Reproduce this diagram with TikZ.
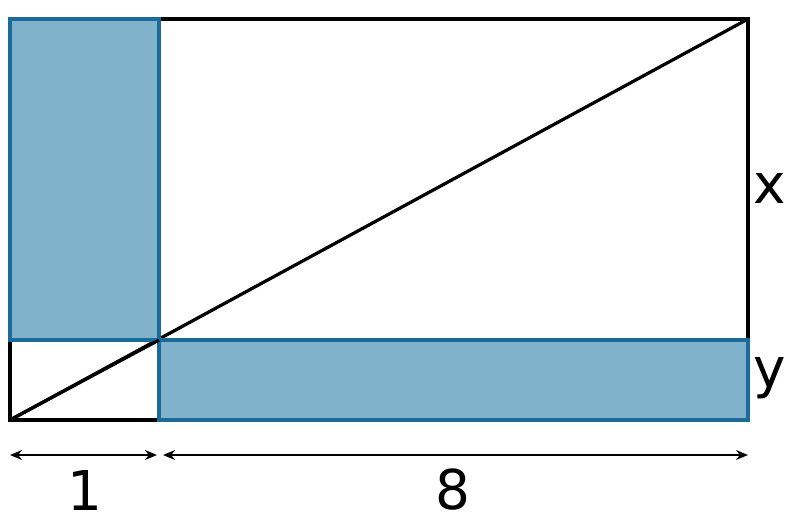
\documentclass[tikz,border=0pt]{standalone}
\usepackage{fontspec}
\setmainfont{DejaVu Sans}
\usetikzlibrary{arrows.meta}
\definecolor{boxblue}{HTML}{80B2CB}
\definecolor{edgeblue}{HTML}{1A6A9A}

\begin{document}
\begin{tikzpicture}[x = 0.025cm, y = -0.025cm,
	blackline/.style = {solid, line width = 2.3pt, black},
	blueside/.style = {fill = boxblue, draw = edgeblue, line width = 2.3pt},
	dimline/.style = {line width = 1.4pt, black, {Stealth[length = 8.5pt, width = 7pt]}-{Stealth[length = 8.5pt, width = 7pt]}},
	lbl/.style = {black, font = \fontsize{39}{39}\selectfont}]

	\useasboundingbox (0, 0) rectangle (800, 529);

	\coordinate (A) at (10, 420);
	\coordinate (B) at (159, 420);
	\coordinate (C) at (748, 420);
	\coordinate (D) at (748, 340);
	\coordinate (E) at (159, 340);
	\coordinate (F) at (10, 340);
	\coordinate (G) at (748, 19);
	\coordinate (H) at (159, 19);
	\coordinate (K) at (10, 19);

	\draw[blackline] (A) -- (C) -- (G) -- (K) -- cycle;
	\draw[blackline] (A) -- (G);
	\draw[blackline] (B) -- (E);
	\draw[blackline] (F) -- (E);

	\draw[blueside] (F) rectangle (H);
	\draw[blueside] (E) rectangle (C);
	\draw[blackline] (A) -- (E);

	\coordinate (p1) at (10, 455);
	\coordinate (p2) at (157, 455);
	\coordinate (p3) at (163, 455);
	\coordinate (p4) at (748, 455);
	\draw[dimline] (p1) -- (p2);
	\draw[dimline] (p3) -- (p4);

	\node[lbl] (one) at (85, 490) {1};
	\node[lbl] (eight) at (453, 490) {8};
	\node[lbl] (xlab) at (770, 188) {x};
	\node[lbl] (ylab) at (770, 378) {y};

\end{tikzpicture}
\end{document}
